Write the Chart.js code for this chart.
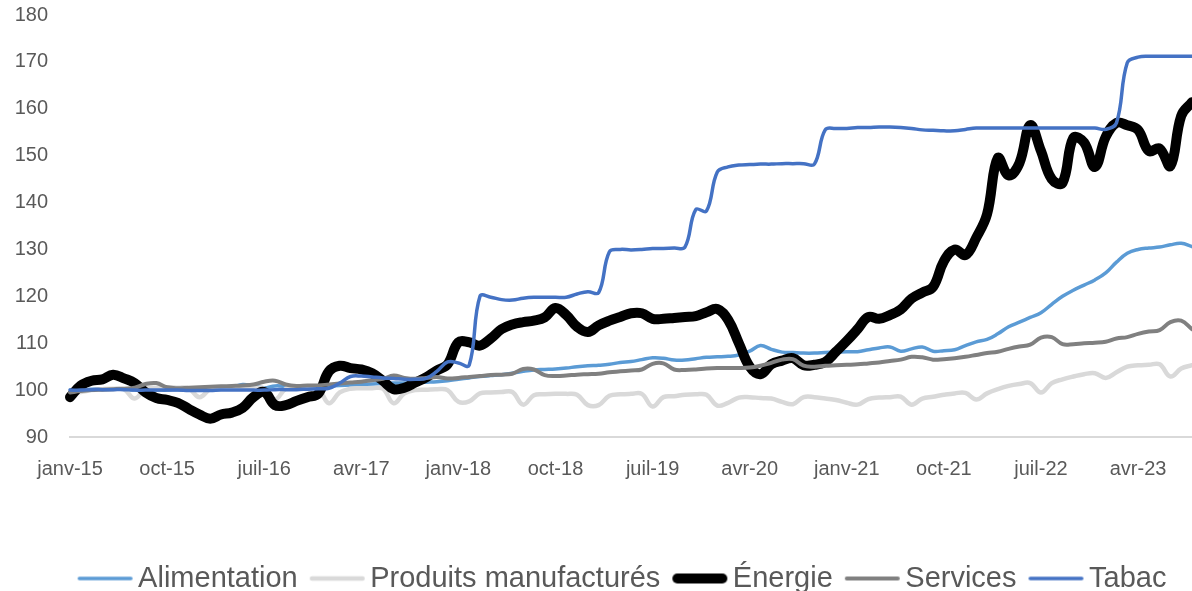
<!DOCTYPE html>
<html lang="fr">
<head>
<meta charset="utf-8">
<title>Indices de prix par poste</title>
<script src="https://cdn.jsdelivr.net/npm/chart.js@4.4.1/dist/chart.umd.min.js"></script>
<style>
    html, body { margin: 0; padding: 0; background: #ffffff; }
    #wrap { width: 1192px; height: 591px; position: relative; }
</style>
</head>
<body>
<div id="wrap"><canvas id="chart"></canvas></div>
<script>
// Mois (janv-15 -> sept-23)
const moisCourts = ['janv', 'févr', 'mars', 'avr', 'mai', 'juin', 'juil', 'août', 'sept', 'oct', 'nov', 'déc'];
const annees = ['15', '16', '17', '18', '19', '20', '21', '22', '23'];
const nbMois = 105;
const mois = [];
for (let i = 0; i < nbMois; i++) {
    mois.push(moisCourts[i % 12] + '-' + annees[Math.floor(i / 12)]);
}

// Graduations de l'axe vertical
const yTicks = [90, 100, 110, 120, 130, 140, 150, 160, 170, 180];

const alimentation = [
    100, 100.1, 100.2, 100.3, 100.3, 100.2, 100, 99.9, 100, 100,
    100.1, 100.1, 100.3, 100.4, 100.5, 100.6, 101.2, 100.9, 100.5, 100.9,
    100.8, 100.5, 100.6, 100.8, 100.9, 101, 101.1, 101.2, 101.3, 101.4,
    101.5, 101.5, 101.6, 101.7, 101.8, 102, 102.3, 102.6, 102.9, 103.1,
    103.3, 103.6, 104, 104.3, 104.4, 104.5, 104.7, 105, 105.2, 105.3,
    105.5, 105.9, 106.1, 106.5, 106.9, 106.8, 106.4, 106.4, 106.7, 107,
    107.1, 107.2, 107.5, 108.3, 109.5, 108.7, 108.1, 108, 107.9, 107.9,
    108, 108.1, 108.2, 108.2, 108.6, 109, 109.2, 108.3, 108.8, 109.2,
    108.3, 108.4, 108.6, 109.5, 110.3, 110.8, 112, 113.5, 114.5, 115.5,
    116.5, 118.3, 120, 121.3, 122.4, 123.5, 125, 127.3, 129.2, 130,
    130.3, 130.5, 131, 131.3, 130.6
];

const produitsManufactures = [
    99.5, 99.6, 100, 100.2, 100.3, 100.2, 98.2, 100.3, 100.5, 100.6,
    100.5, 100.4, 98.5, 100.2, 100.5, 100.6, 100.6, 100.5, 100.3, 98,
    100.3, 100.6, 100.5, 100.4, 97.2, 99.5, 100.3, 100.4, 100.4, 100.3,
    97.2, 99.3, 100, 100.1, 100.2, 100, 97.5, 97.6, 99.3, 99.5,
    99.6, 99.6, 96.9, 98.9, 99.1, 99.2, 99.2, 99, 96.8, 96.8,
    98.8, 99.1, 99.2, 99.2, 96.5, 98.5, 98.7, 99, 99.1, 99,
    96.7, 97.3, 98.4, 98.5, 98.3, 98.2, 97.5, 97, 98.5, 98.5,
    98.2, 97.9, 97.3, 96.9, 98.1, 98.4, 98.5, 98.6, 96.9, 98.2,
    98.6, 99, 99.3, 99.4, 98, 99.3, 100.2, 100.9, 101.3, 101.5,
    99.5, 101.5, 102.3, 102.9, 103.4, 103.6, 102.6, 103.8, 105, 105.3,
    105.4, 105.5, 102.9, 104.6, 105.3
];

const energie = [
    98.5, 101, 102, 102.3, 103.3, 102.5, 101.5, 99.5, 98.3, 97.9,
    97.3, 96, 94.8, 93.9, 94.8, 95.2, 96.2, 98.5, 99.6, 96.8,
    96.8, 97.7, 98.5, 99.2, 104, 105.2, 104.7, 104.4, 103.6, 102,
    100.2, 100.5, 101.6, 102.7, 104.2, 105.5, 110.2, 110.2, 109.5, 111,
    113, 114, 114.5, 114.8, 115.5, 117.5, 116, 113.5, 112.4, 113.8,
    114.8, 115.6, 116.4, 116.4, 115.2, 115.2, 115.4, 115.6, 115.8, 116.6,
    117.3, 115, 110, 105, 103.4, 105.5, 106.3, 106.8, 105.3, 105.4,
    106, 108.2, 110.5, 113, 115.6, 115.2, 116, 117.2, 119.5, 120.8,
    122, 127.5, 130, 128.8, 132.5, 137.5, 149.5, 145.8, 148.4, 156.5,
    151, 145, 144.2, 153.8, 152.8, 147.6, 154, 157, 156.5, 155.5,
    151, 151.5, 147.8, 158.5, 161.4
];

const services = [
    99.5, 99.8, 100, 100.1, 100.2, 100.3, 100.5, 101.3, 101.5, 100.6,
    100.4, 100.5, 100.6, 100.7, 100.8, 100.9, 101, 101.2, 101.8, 102,
    101.2, 100.9, 101, 101, 101.2, 101.4, 101.6, 101.8, 102.1, 102.4,
    103.1, 102.6, 102.4, 102.6, 102.8, 102.5, 102.6, 102.8, 103, 103.2,
    103.3, 103.5, 104.5, 104.4, 103.2, 103, 103.1, 103.3, 103.4, 103.5,
    103.8, 104, 104.2, 104.4, 105.6, 105.7, 104.4, 104.3, 104.4, 104.6,
    104.7, 104.7, 104.7, 104.8, 105.2, 105.8, 106.5, 106.6, 105.2, 105,
    105.2, 105.3, 105.4, 105.5, 105.7, 105.9, 106.2, 106.5, 107.1, 107,
    106.5, 106.6, 106.8, 107.1, 107.5, 107.9, 108.2, 108.8, 109.3, 109.7,
    111.2, 111.3, 109.8, 109.8, 110, 110.1, 110.3, 111, 111.3, 112,
    112.5, 112.8, 114.5, 114.8, 113
];

const tabac = [
    100, 100, 100.1, 100.1, 100.1, 100.1, 100, 100, 100, 100,
    100, 99.9, 99.9, 99.9, 100, 100, 100, 100, 100, 100.1,
    100.1, 100.1, 100.2, 100.3, 100.4, 101.5, 102.9, 103, 102.8, 102.6,
    102.5, 102.3, 102.3, 102.5, 104, 106, 105.8, 105.3, 120, 119.8,
    119.3, 119.2, 119.6, 119.8, 119.8, 119.8, 119.8, 120.5, 121, 120.8,
    129.5, 130, 129.9, 130, 130.2, 130.2, 130.3, 130.5, 138.5, 138.2,
    146.5, 147.6, 148, 148.1, 148.2, 148.2, 148.3, 148.3, 148.3, 148.2,
    155.5, 155.8, 155.8, 156, 156, 156.1, 156.1, 156, 155.8, 155.5,
    155.4, 155.3, 155.3, 155.6, 155.9, 155.9, 155.9, 155.9, 155.9, 155.9,
    155.9, 155.9, 155.9, 155.9, 155.9, 155.9, 155.6, 157, 169.8, 171,
    171.2, 171.2, 171.2, 171.2, 171.2
];

const textColor = '#595959';
const fontFamily = '"Liberation Sans", Arial, sans-serif';

// petit trait de légende, collé au texte comme dans Excel
function swatch(color, width) {
    const c = document.createElement('canvas');
    c.width = 72;
    c.height = 16;
    const g = c.getContext('2d');
    g.strokeStyle = color;
    g.lineWidth = width;
    g.lineCap = 'round';
    g.beginPath();
    g.moveTo(14 + width / 2, 8);
    g.lineTo(69 - width / 2, 8);
    g.stroke();
    return c;
}

function serie(label, data, color, width, order) {
    return {
        label: label,
        data: data,
        borderColor: color,
        backgroundColor: color,
        borderWidth: width,
        borderCapStyle: 'round',
        borderJoinStyle: 'round',
        pointRadius: 0,
        pointHoverRadius: 0,
        pointStyle: swatch(color, width),
        tension: 0.4,
        fill: false,
        order: order
    };
}

// décale la légende comme sur l'original
const legendNudge = {
    id: 'legendNudge',
    afterLayout(chart) {
        const lg = chart.legend;
        lg.left += 25;
        lg.right += 25;
        lg.top += 12;
        lg.bottom += 12;
    }
};

const ctx = document.getElementById('chart').getContext('2d');
new Chart(ctx, {
    type: 'line',
    data: {
        labels: mois,
        datasets: [
            serie('Alimentation', alimentation, '#5B9BD5', 3.5, 5),
            serie('Produits manufacturés', produitsManufactures, '#D9D9D9', 4.5, 4),
            serie('Énergie', energie, '#000000', 10, 3),
            serie('Services', services, '#808080', 4, 2),
            serie('Tabac', tabac, '#4472C4', 3.5, 1)
        ]
    },
    options: {
        responsive: true,
        maintainAspectRatio: false,
        animation: false,
        layout: { padding: { left: 0, right: 0, top: 15, bottom: 0 } },
        plugins: {
            tooltip: { enabled: false },
            legend: {
                position: 'bottom',
                align: 'center',
                labels: {
                    usePointStyle: true,
                    pointStyleWidth: 48,
                    padding: 10,
                    color: textColor,
                    font: { family: fontFamily, size: 29 },
                    sort: (a, b) => a.datasetIndex - b.datasetIndex
                }
            }
        },
        scales: {
            x: {
                grid: { display: false, drawTicks: false },
                border: { display: true, color: '#D9D9D9', width: 2 },
                ticks: {
                    autoSkip: false,
                    maxRotation: 0,
                    minRotation: 0,
                    padding: 20,
                    color: textColor,
                    font: { family: fontFamily, size: 20 },
                    callback: function (value, index) {
                        return index % 9 === 0 ? this.getLabelForValue(value) : null;
                    }
                },
                afterFit: (scale) => {
                    scale.height = 105;
                    scale.paddingLeft = 0;
                    scale.paddingRight = 0;
                }
            },
            y: {
                min: yTicks[0],
                max: yTicks[yTicks.length - 1],
                grid: { display: false, drawTicks: false },
                border: { display: false },
                afterBuildTicks: (scale) => {
                    scale.ticks = yTicks.map(v => ({ value: v }));
                },
                ticks: {
                    padding: 22,
                    color: textColor,
                    font: { family: fontFamily, size: 20 }
                },
                afterFit: (scale) => {
                    scale.width = 70;
                    scale.paddingTop = 0;
                    scale.paddingBottom = 0;
                }
            }
        }
    },
    plugins: [legendNudge]
});
</script>
</body>
</html>
